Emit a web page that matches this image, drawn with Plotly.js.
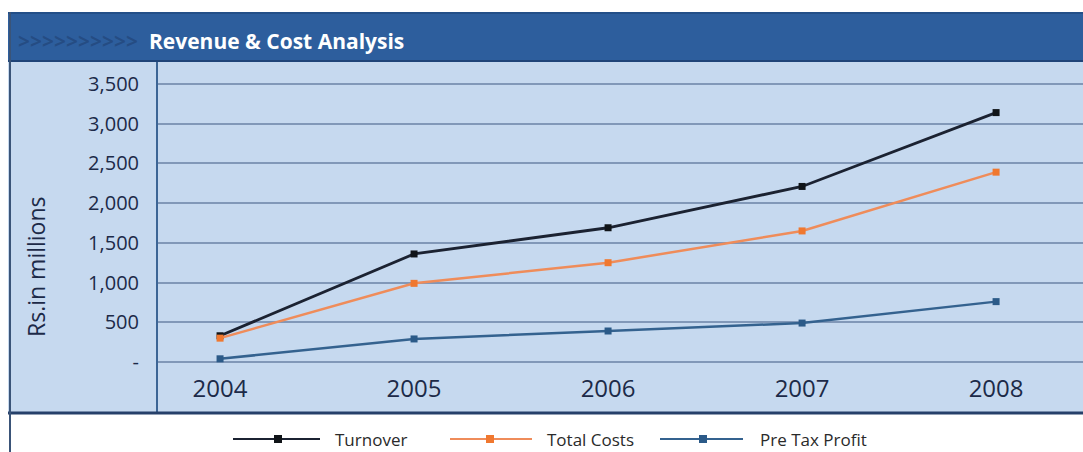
<!DOCTYPE html>
<html>
<head>
<meta charset="utf-8">
<script src="https://cdn.plot.ly/plotly-3.0.1.min.js"></script>
<style>
  html, body { margin: 0; padding: 0; background: #ffffff; }
  #chart { width: 1083px; height: 452px; }
</style>
</head>
<body>
<div id="chart"></div>
<script>
// Financial years and figures (Rs. in millions)
const years = ['2004', '2005', '2006', '2007', '2008'];
const turnover = [330, 1360, 1690, 2210, 3140];
const totalCosts = [300, 990, 1250, 1650, 2390];
const preTaxProfit = [40, 290, 390, 490, 760];
const seriesNames = ['Turnover', 'Total Costs', 'Pre Tax Profit'];
const yTickValues = [0, 500, 1000, 1500, 2000, 2500, 3000, 3500];
const yTickLabels = ['-', '500', '1,000', '1,500', '2,000', '2,500', '3,000', '3,500'];
const chartTitle = 'Revenue & Cost Analysis';
const yTitle = 'Rs.in millions';

// Figure size in pixels; helpers convert pixel positions into paper fractions
const W = 1083, H = 452;
const fx = x => x / W;
const fy = y => 1 - y / H;

const FONT = '"Open Sans", "Noto Sans", sans-serif';
const INK = '#1c2a48';

const seriesStyles = [
  { line: '#1b2231', marker: '#101418', width: 2.8 },
  { line: '#ef8c5a', marker: '#f0782f', width: 2.5 },
  { line: '#34628f', marker: '#2b5a88', width: 2.5 }
];
const seriesValues = [turnover, totalCosts, preTaxProfit];

const traces = seriesValues.map((vals, i) => ({
  type: 'scatter',
  mode: 'lines+markers',
  x: years,
  y: vals,
  name: seriesNames[i],
  line: { color: seriesStyles[i].line, width: seriesStyles[i].width },
  marker: { symbol: 'square', size: 7, color: seriesStyles[i].marker },
  showlegend: false,
  hoverinfo: 'skip'
}));

// Frame: light blue panel, header band, axis and border rules
const shapes = [
  { type: 'rect', xref: 'paper', yref: 'paper', layer: 'below',
    x0: fx(8), x1: fx(1083), y0: fy(412), y1: fy(62),
    fillcolor: '#c6d9ef', line: { width: 0 } },
  { type: 'rect', xref: 'paper', yref: 'paper', layer: 'below',
    x0: fx(8), x1: fx(1083), y0: fy(62), y1: fy(12),
    fillcolor: '#2d5e9d', line: { width: 0 } },
  { type: 'line', xref: 'paper', yref: 'paper', layer: 'below',
    x0: fx(8), x1: fx(1083), y0: fy(13), y1: fy(13),
    line: { color: '#234f88', width: 2 } },
  { type: 'line', xref: 'paper', yref: 'paper', layer: 'below',
    x0: fx(8), x1: fx(1083), y0: fy(61), y1: fy(61),
    line: { color: '#1f4478', width: 2 } },
  { type: 'line', xref: 'paper', yref: 'paper', layer: 'above',
    x0: fx(157), x1: fx(157), y0: fy(412), y1: fy(62),
    line: { color: '#3c6595', width: 2 } },
  { type: 'line', xref: 'paper', yref: 'paper', layer: 'above',
    x0: fx(8), x1: fx(1083), y0: fy(413), y1: fy(413),
    line: { color: '#26406a', width: 3 } },
  { type: 'line', xref: 'paper', yref: 'paper', layer: 'above',
    x0: fx(10), x1: fx(10), y0: fy(452), y1: fy(12),
    line: { color: '#3a5478', width: 2 } }
];

// Legend row below the panel, one sample per series
const legendRow = [
  { x0: 233, x1: 320, mark: 278, text: 333 },
  { x0: 450, x1: 532, mark: 490, text: 545 },
  { x0: 660, x1: 743, mark: 703, text: 758 }
];
const legendY = 439;
const annotations = [];
legendRow.forEach((pos, i) => {
  shapes.push({ type: 'line', xref: 'paper', yref: 'paper',
    x0: fx(pos.x0), x1: fx(pos.x1), y0: fy(legendY), y1: fy(legendY),
    line: { color: seriesStyles[i].line, width: 2 } });
  shapes.push({ type: 'rect', xref: 'paper', yref: 'paper',
    x0: fx(pos.mark - 4), x1: fx(pos.mark + 4), y0: fy(legendY + 4), y1: fy(legendY - 4),
    fillcolor: seriesStyles[i].marker, line: { width: 0 } });
  annotations.push({ xref: 'paper', yref: 'paper', x: fx(pos.text), y: fy(legendY),
    xanchor: 'left', yanchor: 'middle', showarrow: false, text: seriesNames[i],
    font: { family: FONT, size: 17, color: '#2a2a2a' } });
});

// Header title and decorative chevrons
annotations.push({ xref: 'paper', yref: 'paper', x: fx(147), y: fy(41),
  xanchor: 'left', yanchor: 'middle', showarrow: false, text: '<b>' + chartTitle.replace('&', '&amp;') + '</b>',
  font: { family: FONT, size: 21, color: '#ffffff' } });
annotations.push({ xref: 'paper', yref: 'paper', x: fx(16), y: fy(41),
  xanchor: 'left', yanchor: 'middle', showarrow: false, text: '<b>&gt;&gt;&gt;&gt;&gt;&gt;&gt;&gt;&gt;&gt;</b>',
  font: { family: FONT, size: 21, color: 'rgba(22,44,82,0.35)' } });

// Rotated value-axis caption
annotations.push({ xref: 'paper', yref: 'paper', x: fx(36), y: fy(267),
  xanchor: 'center', yanchor: 'middle', showarrow: false, textangle: -90,
  text: yTitle, font: { family: FONT, size: 23, color: INK } });

const layout = {
  width: W,
  height: H,
  margin: { l: 0, r: 0, t: 0, b: 0, pad: 0 },
  paper_bgcolor: '#ffffff',
  plot_bgcolor: 'rgba(0,0,0,0)',
  showlegend: false,
  xaxis: {
    type: 'category',
    domain: [fx(157), 1],
    range: [-0.325, 4.448],
    showgrid: false,
    zeroline: false,
    showline: false,
    ticks: '',
    ticklabelstandoff: 2,
    tickfont: { family: FONT, size: 24, color: INK },
    fixedrange: true
  },
  yaxis: {
    domain: [fy(370), fy(62)],
    range: [-101, 3777],
    tickvals: yTickValues,
    ticktext: yTickLabels,
    showgrid: true,
    gridcolor: '#8198b8',
    gridwidth: 2,
    zeroline: false,
    showline: false,
    ticks: '',
    ticklabelstandoff: 17,
    tickfont: { family: FONT, size: 20, color: INK },
    fixedrange: true
  },
  shapes: shapes,
  annotations: annotations
};

Plotly.newPlot('chart', traces, layout, { displayModeBar: false, staticPlot: true });
</script>
</body>
</html>
